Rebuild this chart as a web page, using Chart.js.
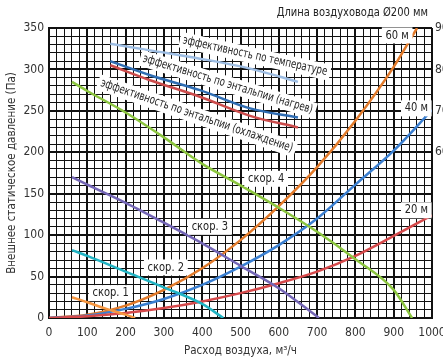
<!DOCTYPE html>
<html>
<head>
<meta charset="utf-8">
<script src="https://cdn.jsdelivr.net/npm/chart.js@4.4.1/dist/chart.umd.min.js"></script>
<style>
  html, body { margin: 0; padding: 0; background: #fff; }
  #wrap { width: 443px; height: 362px; }
</style>
</head>
<body>
<div id="wrap"><canvas id="chart"></canvas></div>
<script>
// system curves (duct length), Pa vs m3/h
const flow = [0, 100, 200, 300, 400, 500, 600, 700, 800, 900, 1000];
const duct20 = [0, 2, 6, 12, 20, 30, 42, 56, 75, 99, 124];
const duct40 = [0, 3, 11, 23, 40, 62, 88, 120, 161, 202, 251];
const duct60Flow = [0, 100, 200, 300, 400, 500, 600, 700, 800, 900, 961];
const duct60 = [0, 4, 15, 34, 60, 94, 135, 182, 238, 303, 350];

// fan curves per speed
const speed1Flow = [60, 100, 150, 200, 225];
const speed1 = [25, 19, 11, 4, 0];
const speed2Flow = [60, 100, 200, 300, 400, 455];
const speed2 = [82, 75, 56, 37, 17, 0];
const speed3Flow = [60, 100, 200, 300, 400, 500, 600, 705];
const speed3 = [170, 161, 139, 115, 90, 63, 36, 0];
const speed4Flow = [60, 100, 200, 300, 400, 500, 600, 700, 800, 900, 948];
const speed4 = [285, 274, 248, 218, 186, 160, 133, 104, 71, 34, 0];

// efficiency curves, %
const effFlow = [160, 264, 394, 525, 650];
const effTemp = [86.2, 84.6, 82.6, 80.2, 77];
const effHeat = [82, 78.6, 75, 70.6, 68.4];
const effCool = [81, 77.4, 73.4, 68.8, 66];

const FONT = "'Liberation Sans Narrow', 'DejaVu Sans Condensed', 'Open Sans', sans-serif";

function pts(xs, ys) {
    return xs.map((x, i) => ({ x: x, y: ys[i] }));
}

function line(data, color, axis) {
    return {
        data: data,
        borderColor: color,
        borderWidth: 2.5,
        pointRadius: 0,
        fill: false,
        cubicInterpolationMode: 'monotone',
        yAxisID: axis || 'y'
    };
}

// text labels, placed in data units
const curveLabels = [
    { text: 'скор. 1', x: 161, y: 30 },
    { text: 'скор. 2', x: 305, y: 61 },
    { text: 'скор. 3', x: 420, y: 110 },
    { text: 'скор. 4', x: 567, y: 168 },
    { text: '60 м', x: 909, y: 341 },
    { text: '40 м', x: 959, y: 253 },
    { text: '20 м', x: 959, y: 130 }
];
const effLabels = [
    { text: 'эффективность по температуре', x: 538, y: 316, angle: 12.5 },
    { text: 'эффективность по энтальпии (нагрев)', x: 467, y: 282, angle: 17 },
    { text: 'эффективность по энтальпии (охлаждение)', x: 386, y: 244, angle: 19 }
];

// draw text narrowed horizontally, with an optional white box behind it
function narrowText(ctx, text, x, y, angle, squeeze, box) {
    ctx.save();
    ctx.translate(x, y);
    ctx.rotate(angle * Math.PI / 180);
    ctx.scale(squeeze, 1);
    const w = ctx.measureText(text).width;
    const left = ctx.textAlign === 'right' ? -w : (ctx.textAlign === 'center' ? -w / 2 : 0);
    if (box) {
        ctx.fillStyle = '#fff';
        ctx.fillRect(left - box, -8, w + box * 2, 16);
    }
    ctx.fillStyle = '#222';
    ctx.fillText(text, 0, 0);
    ctx.restore();
}

const labelPlugin = {
    id: 'labels',
    afterDatasetsDraw(chart) {
        const ctx = chart.ctx;
        const xs = chart.scales.x, ys = chart.scales.y;
        ctx.save();
        ctx.textAlign = 'center';
        ctx.textBaseline = 'middle';
        ctx.font = '12px ' + FONT;
        curveLabels.forEach(l => {
            narrowText(ctx, l.text, xs.getPixelForValue(l.x), ys.getPixelForValue(l.y), 0, 0.92, 4);
        });
        effLabels.forEach(l => {
            narrowText(ctx, l.text, xs.getPixelForValue(l.x), ys.getPixelForValue(l.y), l.angle, 0.8, 4);
        });
        // heading above the plot
        ctx.textAlign = 'right';
        ctx.font = '13px ' + FONT;
        narrowText(ctx, 'Длина воздуховода Ø200 мм', 428, 13, 0, 0.85, 0);
        ctx.restore();
    }
};

const gridWidth = (ctx, major) => (ctx.tick && ctx.tick.value % major === 0) ? 2 : 1;

new Chart(document.getElementById('chart'), {
    type: 'line',
    data: {
        datasets: [
            line(pts(effFlow, effTemp), '#9dbde3', 'y2'),
            line(pts(effFlow, effHeat), '#2f6db3', 'y2'),
            line(pts(effFlow, effCool), '#cc4c4c', 'y2'),
            line(pts(speed4Flow, speed4), '#8cc63f'),
            line(pts(speed3Flow, speed3), '#7466b6'),
            line(pts(speed2Flow, speed2), '#21b4c4'),
            line(pts(speed1Flow, speed1), '#f6963f'),
            line(pts(flow, duct20), '#d6494b'),
            line(pts(flow, duct40), '#3a7fd1'),
            line(pts(duct60Flow, duct60), '#e27a2a')
        ]
    },
    options: {
        responsive: true,
        maintainAspectRatio: false,
        animation: false,
        layout: { padding: { top: 28, right: 0, left: 0, bottom: 0 } },
        plugins: { legend: { display: false }, tooltip: { enabled: false } },
        scales: {
            x: {
                type: 'linear',
                min: 0,
                max: 1000,
                border: { display: true, color: '#111', width: 2 },
                grid: { color: '#111', lineWidth: ctx => gridWidth(ctx, 100), drawTicks: false },
                ticks: {
                    stepSize: 20,
                    autoSkip: false,
                    maxRotation: 0,
                    padding: 8,
                    color: '#333',
                    font: { family: FONT, size: 12 },
                    callback: v => (v % 100 === 0 ? v : '')
                },
                title: {
                    display: true,
                    text: 'Расход воздуха, м³/ч',
                    color: '#333',
                    font: { family: FONT, size: 11.5 },
                    padding: { top: 0, bottom: 4 }
                },
                afterFit: s => { s.height = 44; s.paddingLeft = 0; s.paddingRight = 0; }
            },
            y: {
                min: 0,
                max: 350,
                border: { display: true, color: '#111', width: 2 },
                grid: { color: '#111', lineWidth: ctx => gridWidth(ctx, 50), drawTicks: false },
                ticks: {
                    stepSize: 10,
                    autoSkip: false,
                    padding: 5,
                    color: '#333',
                    font: { family: FONT, size: 12 },
                    callback: v => (v % 50 === 0 ? v : '')
                },
                title: {
                    display: true,
                    text: 'Внешнее статическое давление (Па)',
                    color: '#333',
                    font: { family: FONT, size: 11.5 },
                    padding: { top: 5, bottom: 0 }
                },
                afterFit: s => { s.width = 49; }
            },
            y2: {
                position: 'right',
                min: 20,
                max: 90,
                grid: { display: false, drawTicks: false },
                border: { display: false },
                ticks: {
                    stepSize: 10,
                    padding: 3,
                    color: '#333',
                    font: { family: FONT, size: 12 },
                    callback: v => (v >= 60 ? v : '')
                },
                afterFit: s => { s.width = 11; }
            }
        }
    },
    plugins: [labelPlugin]
});
</script>
</body>
</html>
